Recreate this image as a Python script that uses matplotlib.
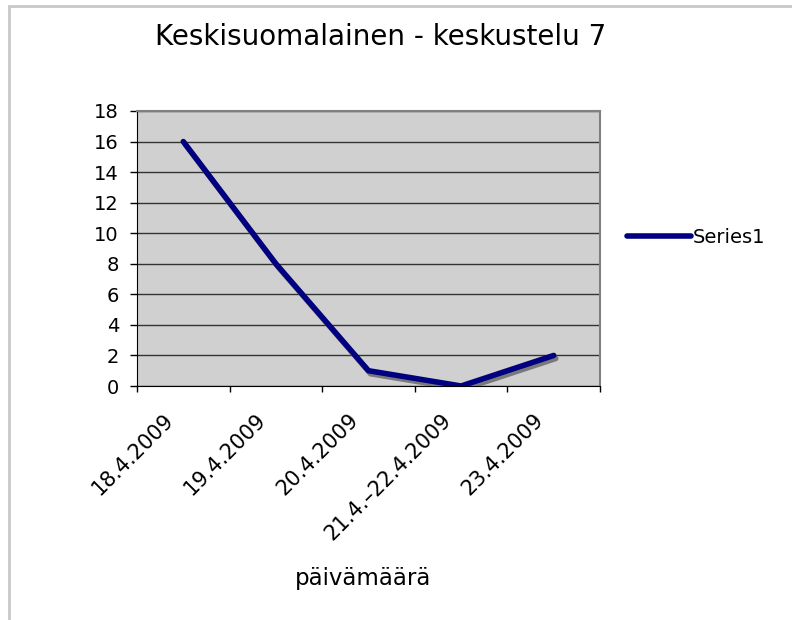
import matplotlib.pyplot as plt
import matplotlib.patheffects as pe
import matplotlib.transforms as mtransforms
from matplotlib.lines import Line2D
from matplotlib.patches import Rectangle

# data
dates = ["18.4.2009", "19.4.2009", "20.4.2009", "21.4.\u201322.4.2009", "23.4.2009"]
values = [16, 8, 1, 0, 2]
yticks = list(range(0, 20, 2))

navy = "#000080"

fig = plt.figure(figsize=(7.92, 6.2), dpi=100)
ax = fig.add_axes([137 / 792, 1 - 386 / 620, 463 / 792, 275 / 620])
ax.set_facecolor("#D0D0D0")

x = [i + 0.5 for i in range(len(values))]
ax.plot(x, values, color=navy, linewidth=4, solid_capstyle="round",
        solid_joinstyle="round", zorder=3,
        path_effects=[pe.SimpleLineShadow(offset=(1.5, -2.2), shadow_color="#707070", alpha=0.9),
                      pe.Normal()])

ax.set_xlim(0, len(values))
ax.set_ylim(0, 18)
ax.set_yticks(yticks)
ax.yaxis.grid(True, color="#333333", linewidth=1)
ax.set_axisbelow(True)

# category boundaries get the ticks, labels sit under the centres
ax.set_xticks(range(len(values) + 1))
ax.set_xticklabels([])
ax.tick_params(axis="x", length=4.5, width=1, direction="out")
ax.tick_params(axis="y", length=5, width=1, labelsize=14, pad=8)

lbl_tr = (mtransforms.blended_transform_factory(ax.transData, ax.transAxes)
          + mtransforms.ScaledTranslation(-20 / 100, -24 / 100, fig.dpi_scale_trans))
for xi, d in zip(x, dates):
    ax.text(xi, 0, d, transform=lbl_tr, rotation=45, ha="right", va="top",
            rotation_mode="anchor", fontsize=15, clip_on=False)

for s in ["top", "right"]:
    ax.spines[s].set_color("#808080")
    ax.spines[s].set_linewidth(1.5)
ax.spines["left"].set_color("black")
ax.spines["bottom"].set_color("black")

fig.text(363 / 792, 1 - 578 / 620, "päivämäärä", ha="center", va="center", fontsize=16.5)

fig.text(381 / 792, 1 - 37 / 620, "Keskisuomalainen - keskustelu 7",
         ha="center", va="center", fontsize=20)

handle = Line2D([], [], color=navy, linewidth=4, solid_capstyle="round")
ax.legend([handle], ["Series1"], loc="center left", bbox_to_anchor=(1.02, 0.54),
          frameon=False, fontsize=14, handlelength=3.3, handletextpad=0.1)

fig.patches.append(Rectangle((9 / 792, -0.1), 1.2, 1.1 - 6 / 620,
                             transform=fig.transFigure, fill=False,
                             edgecolor="#C8C8C8", linewidth=2, clip_on=False))

fig.savefig("out.png", dpi=100)
